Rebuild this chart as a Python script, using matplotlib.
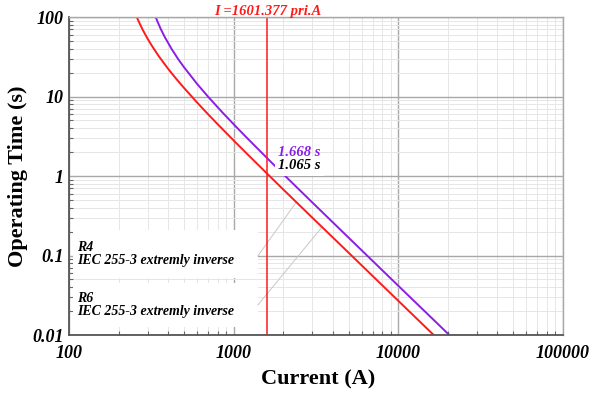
import numpy as np
import matplotlib
matplotlib.use('Agg')
import matplotlib.pyplot as plt
from matplotlib.patches import Rectangle
from matplotlib.ticker import FixedLocator, FixedFormatter, LogLocator, NullFormatter
from matplotlib.transforms import blended_transform_factory


# operating curves read along the two relay characteristics (A, s)
red_current = [258, 262, 270, 280, 300, 320, 350, 400, 450, 500, 600, 700, 800,
               1000, 1200, 1601.377, 2000, 3000, 5000, 10000, 16400]
red_time = [100, 92.8, 81, 69.4, 53.4, 42.9, 32.4, 22.3, 16.5, 12.8, 8.4, 5.97, 4.48,
            2.80, 1.92, 1.065, 0.678, 0.300, 0.108, 0.0269, 0.01]

purple_current = [336, 345, 360, 380, 420, 460, 500, 600, 700, 850, 1000, 1200,
                  1601.377, 2000, 3000, 5000, 10000, 20400]
purple_time = [100, 87.2, 71.3, 56.9, 39.6, 29.6, 23.3, 14.4, 9.93, 6.38, 4.48, 3.04,
               1.668, 1.058, 0.466, 0.167, 0.0416, 0.01]

fault_current = 1601.377
red_trip = 1.065
purple_trip = 1.668

relay_names = ['R4', 'R6']
curve_type = 'IEC 255-3 extremly inverse'
leader_current = [2400, 3440]

x_ticks = [100, 1000, 10000, 100000]
x_ticklabels = ['100', '1000', '10000', '100000']
y_ticks = [0.01, 0.1, 1, 10, 100]
y_ticklabels = ['0.01', '0.1', '1', '10', '100']

RED = '#ff1a1a'
PURPLE = '#8a1ee6'
SERIF = 'Liberation Serif'

fig = plt.figure(figsize=(5.93, 3.94), dpi=100)
ax = fig.add_axes([0.1164, 0.1497, 0.833, 0.807])
ax.set_xscale('log')
ax.set_yscale('log')
ax.set_xlim(100, 100000)
ax.set_ylim(0.01, 100)

ax.xaxis.set_major_locator(FixedLocator(x_ticks))
ax.xaxis.set_major_formatter(FixedFormatter(x_ticklabels))
ax.yaxis.set_major_locator(FixedLocator(y_ticks))
ax.yaxis.set_major_formatter(FixedFormatter(y_ticklabels))
for axis in (ax.xaxis, ax.yaxis):
    axis.set_minor_locator(LogLocator(base=10, subs=np.arange(2, 10)))
    axis.set_minor_formatter(NullFormatter())

ax.grid(which='major', color='#a8a8a8', lw=1.0)
ax.grid(which='minor', color='#e6e6e6', lw=0.7)
ax.tick_params(which='both', direction='in', color='#666666', width=0.8)
ax.tick_params(which='major', length=0)
ax.tick_params(axis='x', which='major', pad=7)
ax.tick_params(axis='y', which='major', pad=4)
ax.tick_params(which='minor', length=3)
for lab in ax.get_xticklabels() + ax.get_yticklabels():
    lab.set_fontfamily(SERIF)
    lab.set_fontweight('bold')
    lab.set_fontstyle('italic')
    lab.set_fontsize(13)

for side in ('left', 'bottom'):
    ax.spines[side].set_color('#555555')
    ax.spines[side].set_linewidth(1.3)
for side in ('top', 'right'):
    ax.spines[side].set_color('#a8a8a8')
    ax.spines[side].set_linewidth(1.0)

ax.set_xlabel('Current (A)', fontfamily=SERIF, fontweight='bold', fontsize=16)
ax.set_ylabel('Operating Time (s)', fontfamily=SERIF, fontweight='bold', fontsize=16)
ax.xaxis.set_label_coords(0.504, -0.108)
ax.yaxis.set_label_coords(-0.083, 0.5)

# curves and fault current marker
ax.plot(red_current, red_time, color=RED, lw=1.4, zorder=2.2)
ax.plot(purple_current, purple_time, color=PURPLE, lw=1.4, zorder=2.2)
ax.axvline(fault_current, color=RED, lw=1.1, zorder=2.3)

trans = blended_transform_factory(ax.transData, ax.transAxes)
ax.text(fault_current, 1.016, f'I ={fault_current:.3f} pri.A', transform=trans,
        ha='center', va='center', color=RED, fontfamily=SERIF,
        fontweight='bold', fontstyle='italic', fontsize=10.5)

ax.annotate(f'{purple_trip:.3f} s', xy=(fault_current, purple_trip),
            xytext=(11, 6), textcoords='offset pixels', ha='left', va='center',
            color=PURPLE, fontfamily=SERIF, fontweight='bold', fontstyle='italic',
            fontsize=10.5, zorder=4)
ax.annotate(f'{red_trip:.3f} s', xy=(fault_current, red_trip),
            xytext=(11, 8), textcoords='offset pixels', ha='left', va='center',
            color='black', fontfamily=SERIF, fontweight='bold', fontstyle='italic',
            fontsize=10.5, zorder=4,
            bbox=dict(fc='white', ec='none', pad=2.5))

# relay label boxes with leaders to the curve
box_rows = [(0.179, 0.151, 0.248), (0.025, 0.138, 0.094)]
log_red_I = np.log10(red_current)
log_red_t = np.log10(red_time)
for name, (y0, h, ylead), I_end in zip(relay_names, box_rows, leader_current):
    ax.add_patch(Rectangle((0.008, y0), 0.374, h, transform=ax.transAxes,
                           fc='white', ec='none', zorder=1.8))
    ax.text(0.016, y0 + h / 2, f'{name}\n{curve_type}', transform=ax.transAxes,
            ha='left', va='center', fontfamily=SERIF, fontweight='bold',
            fontstyle='italic', fontsize=10, linespacing=1.05, zorder=3)
    t_end = 10 ** np.interp(np.log10(I_end), log_red_I, log_red_t)
    ax.annotate('', xy=(I_end, t_end), xycoords='data',
                xytext=(0.382, ylead), textcoords='axes fraction',
                arrowprops=dict(arrowstyle='-', color='#c8c8c8', lw=0.7,
                                shrinkA=0, shrinkB=0), zorder=1.9)

fig.savefig('out.png', dpi=100)
